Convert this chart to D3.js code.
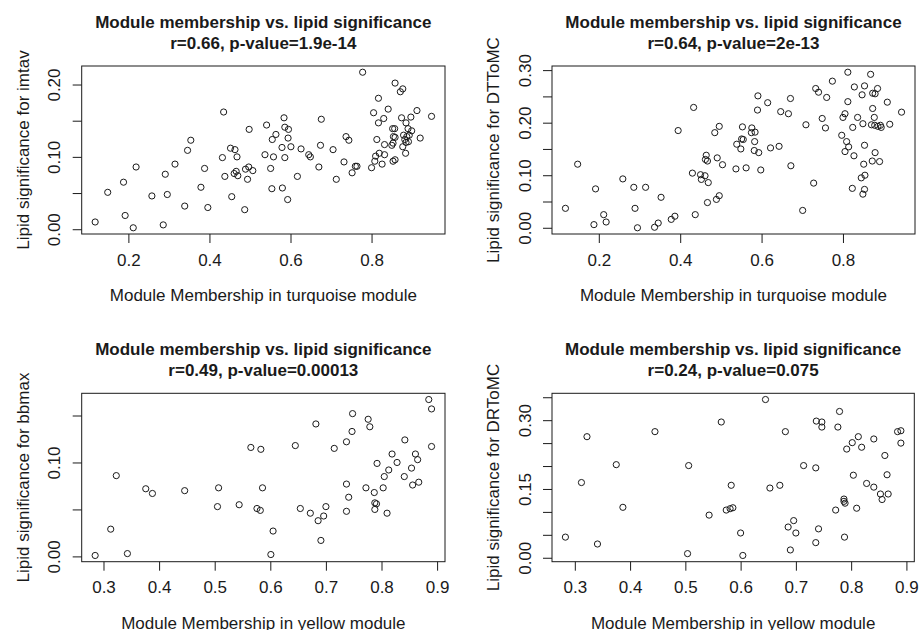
<!DOCTYPE html>
<html>
<head>
<meta charset="utf-8">
<script src="https://cdn.jsdelivr.net/npm/d3@7"></script>
<style>
  body { margin: 0; background: #fff; }
  text { font-family: "Liberation Sans", Arial, sans-serif; fill: #1a1a1a; }
</style>
</head>
<body>
<svg id="chart" width="920" height="630"></svg>
<script>
// module membership (x) and lipid significance (y)
const imtavMM = [0.118, 0.149, 0.188, 0.192, 0.212, 0.219, 0.258, 0.286, 0.291, 0.296, 0.315, 0.339, 0.346, 0.354, 0.379, 0.388, 0.396, 0.435, 0.432, 0.438,
  0.452, 0.463, 0.468, 0.455, 0.461, 0.466, 0.470, 0.487, 0.494, 0.489, 0.497, 0.507, 0.498, 0.541, 0.537, 0.558, 0.551, 0.554, 0.555, 0.564,
  0.584, 0.586, 0.595, 0.594, 0.579, 0.601, 0.586, 0.580, 0.593, 0.626, 0.617, 0.645, 0.649, 0.676, 0.674, 0.670, 0.705, 0.713, 0.732, 0.737,
  0.744, 0.752, 0.760, 0.764, 0.778, 0.800, 0.808, 0.810, 0.819, 0.826, 0.832, 0.813, 0.805, 0.817, 0.817, 0.830, 0.841, 0.832, 0.850, 0.853,
  0.852, 0.857, 0.854, 0.858, 0.853, 0.858, 0.858, 0.871, 0.877, 0.874, 0.885, 0.890, 0.897, 0.899, 0.879, 0.887, 0.882, 0.893, 0.885, 0.891,
  0.877, 0.884, 0.912, 0.920, 0.948];
const imtavGS = [0.010, 0.051, 0.065, 0.019, 0.002, 0.086, 0.046, 0.006, 0.076, 0.048, 0.090, 0.032, 0.109, 0.123, 0.058, 0.084, 0.030, 0.162, 0.099, 0.073,
  0.112, 0.110, 0.100, 0.045, 0.077, 0.080, 0.074, 0.027, 0.069, 0.083, 0.086, 0.081, 0.138, 0.144, 0.103, 0.100, 0.084, 0.056, 0.124, 0.131,
  0.154, 0.141, 0.138, 0.126, 0.113, 0.114, 0.099, 0.057, 0.041, 0.111, 0.073, 0.103, 0.100, 0.152, 0.116, 0.086, 0.110, 0.069, 0.093, 0.128,
  0.123, 0.078, 0.087, 0.087, 0.217, 0.085, 0.094, 0.101, 0.105, 0.090, 0.103, 0.124, 0.161, 0.181, 0.147, 0.153, 0.166, 0.117, 0.116, 0.119,
  0.139, 0.139, 0.128, 0.127, 0.094, 0.096, 0.202, 0.190, 0.194, 0.154, 0.147, 0.139, 0.155, 0.136, 0.130, 0.128, 0.124, 0.130, 0.120, 0.121,
  0.114, 0.105, 0.164, 0.126, 0.156];

const dttomcMM = [0.118, 0.148, 0.188, 0.192, 0.212, 0.218, 0.259, 0.286, 0.289, 0.295, 0.315, 0.337, 0.346, 0.353, 0.378, 0.387, 0.395, 0.433, 0.430, 0.437,
  0.450, 0.452, 0.461, 0.469, 0.464, 0.462, 0.467, 0.467, 0.485, 0.496, 0.491, 0.504, 0.489, 0.496,
  0.537, 0.562, 0.598, 0.539, 0.549, 0.551, 0.555, 0.553, 0.576, 0.575, 0.584, 0.583, 0.582, 0.593, 0.590, 0.591, 0.615, 0.622, 0.643, 0.647,
  0.666, 0.671, 0.672, 0.701, 0.709, 0.728, 0.733, 0.740, 0.749, 0.757, 0.760, 0.774, 0.797, 0.800, 0.805, 0.809, 0.814, 0.805, 0.827, 0.812,
  0.812, 0.828, 0.847, 0.853, 0.836, 0.824, 0.849, 0.823, 0.845, 0.854, 0.851, 0.853, 0.853, 0.849, 0.868, 0.873, 0.879, 0.885, 0.873, 0.877,
  0.870, 0.878, 0.886, 0.892, 0.894, 0.879, 0.872, 0.890, 0.909, 0.915, 0.944];
const dttomcGS = [0.037, 0.121, 0.006, 0.074, 0.025, 0.011, 0.093, 0.077, 0.037, 0.000, 0.077, 0.001, 0.009, 0.058, 0.016, 0.022, 0.185, 0.229, 0.104, 0.025,
  0.101, 0.092, 0.099, 0.086, 0.138, 0.130, 0.127, 0.048, 0.181, 0.193, 0.133, 0.120, 0.054, 0.061,
  0.112, 0.114, 0.110, 0.159, 0.150, 0.169, 0.168, 0.192, 0.190, 0.181, 0.182, 0.164, 0.147, 0.143, 0.224, 0.251, 0.238, 0.152, 0.155, 0.221,
  0.217, 0.246, 0.118, 0.033, 0.196, 0.085, 0.265, 0.258, 0.208, 0.190, 0.248, 0.279, 0.176, 0.210, 0.217, 0.164, 0.154, 0.145, 0.137, 0.296,
  0.240, 0.268, 0.253, 0.270, 0.210, 0.191, 0.198, 0.075, 0.095, 0.100, 0.121, 0.157, 0.073, 0.064, 0.292, 0.256, 0.255, 0.265, 0.227, 0.210,
  0.196, 0.195, 0.193, 0.195, 0.191, 0.143, 0.127, 0.126, 0.239, 0.197, 0.220];

const bbmaxMM = [0.285, 0.313, 0.323, 0.343, 0.376, 0.388, 0.446, 0.507, 0.505, 0.544, 0.565, 0.583, 0.586, 0.576, 0.582, 0.605, 0.601,
  0.645, 0.654, 0.672, 0.682, 0.686, 0.696, 0.700, 0.691, 0.715, 0.737, 0.748, 0.747, 0.737, 0.741, 0.737, 0.776, 0.779, 0.772, 0.787,
  0.788, 0.791, 0.788, 0.792, 0.803, 0.805, 0.813, 0.810, 0.819, 0.828, 0.842, 0.841, 0.854, 0.861, 0.865, 0.856, 0.867, 0.885, 0.890, 0.890];
const bbmaxGS = [0.001, 0.029, 0.086, 0.003, 0.072, 0.067, 0.070, 0.073, 0.053, 0.055, 0.116, 0.114, 0.073, 0.051, 0.049, 0.027, 0.002,
  0.118, 0.051, 0.046, 0.141, 0.038, 0.043, 0.053, 0.017, 0.115, 0.122, 0.152, 0.133, 0.077, 0.063, 0.048, 0.146, 0.138, 0.073, 0.068,
  0.057, 0.056, 0.050, 0.099, 0.073, 0.085, 0.092, 0.046, 0.109, 0.100, 0.124, 0.085, 0.094, 0.109, 0.103, 0.076, 0.079, 0.167, 0.157, 0.117];

const drtomcMM = [0.283, 0.312, 0.322, 0.341, 0.375, 0.387, 0.445, 0.506, 0.504, 0.543, 0.565, 0.574,
  0.581, 0.586, 0.583, 0.600, 0.604, 0.645, 0.653, 0.671, 0.681, 0.686, 0.696, 0.700, 0.690, 0.714, 0.736, 0.737, 0.747, 0.747, 0.741,
  0.736, 0.776, 0.779, 0.772, 0.787, 0.787, 0.789, 0.788, 0.792, 0.802, 0.813, 0.819, 0.804, 0.810, 0.828, 0.841, 0.841, 0.853, 0.856,
  0.867, 0.861, 0.865, 0.884, 0.890, 0.890];
const drtomcGS = [0.045, 0.164, 0.264, 0.030, 0.203, 0.110, 0.275, 0.201, 0.009, 0.093, 0.296, 0.104,
  0.107, 0.109, 0.158, 0.054, 0.005, 0.345, 0.152, 0.158, 0.275, 0.067, 0.081, 0.054, 0.017, 0.201, 0.196, 0.298, 0.296, 0.285, 0.063,
  0.033, 0.285, 0.319, 0.104, 0.128, 0.123, 0.119, 0.045, 0.237, 0.251, 0.264, 0.241, 0.180, 0.108, 0.162, 0.259, 0.154, 0.139, 0.127,
  0.139, 0.223, 0.181, 0.275, 0.277, 0.250];

const turquoiseTicks = [0.2, 0.4, 0.6, 0.8];
const yellowTicks = [0.3, 0.4, 0.5, 0.6, 0.7, 0.8, 0.9];
const imtavTicks = [0, 0.05, 0.10, 0.15, 0.20];
const imtavLabels = [0, 0.10, 0.20];
const dttomcTicks = [0, 0.05, 0.10, 0.15, 0.20, 0.25, 0.30];
const dttomcLabels = [0, 0.10, 0.20, 0.30];
const bbmaxTicks = [0, 0.05, 0.10, 0.15];
const bbmaxLabels = [0, 0.10];
const drtomcTicks = [0, 0.05, 0.10, 0.15, 0.20, 0.25, 0.30, 0.35];
const drtomcLabels = [0, 0.15, 0.30];

const mainTitle = 'Module membership vs. lipid significance';
const subTitles = ['r=0.66, p-value=1.9e-14', 'r=0.64, p-value=2e-13', 'r=0.49, p-value=0.00013', 'r=0.24, p-value=0.075'];
const xLabels = ['Module Membership in turquoise module', 'Module Membership in turquoise module',
  'Module Membership in yellow module', 'Module Membership in yellow module'];
const yLabels = ['Lipid significance for imtav', 'Lipid significance for DTToMC',
  'Lipid significance for bbmax', 'Lipid significance for DRToMC'];

const panels = [
  { xs: imtavMM, ys: imtavGS, xTicks: turquoiseTicks, yTicks: imtavTicks, yShown: imtavLabels, left: 81.7, right: 445, top: 66, bottom: 234 },
  { xs: dttomcMM, ys: dttomcGS, xTicks: turquoiseTicks, yTicks: dttomcTicks, yShown: dttomcLabels, left: 552, right: 915, top: 66, bottom: 234 },
  { xs: bbmaxMM, ys: bbmaxGS, xTicks: yellowTicks, yTicks: bbmaxTicks, yShown: bbmaxLabels, left: 81.7, right: 445, top: 393.3, bottom: 561.7 },
  { xs: drtomcMM, ys: drtomcGS, xTicks: yellowTicks, yTicks: drtomcTicks, yShown: drtomcLabels, left: 552, right: 914.3, top: 393.3, bottom: 561.7 }
];

const INK = '#1a1a1a';
const svg = d3.select('#chart');

// like R: data range stretched by 4% on each side
function paddedExtent(values) {
  const [lo, hi] = d3.extent(values);
  const pad = (hi - lo) * 0.04;
  return [lo - pad, hi + pad];
}

function fmt(v) {
  return v === 0 ? '0.00' : d3.format('.2f')(v);
}

function drawPanel(p, i) {
  const g = svg.append('g');
  const x = d3.scaleLinear().domain(paddedExtent(p.xs)).range([p.left, p.right]);
  const y = d3.scaleLinear().domain(paddedExtent(p.ys)).range([p.bottom, p.top]);

  const xAxis = g.append('g')
    .attr('transform', `translate(0,${p.bottom})`)
    .call(d3.axisBottom(x).tickValues(p.xTicks).tickSize(9).tickFormat(d3.format('.1f')));
  xAxis.select('.domain').remove();
  xAxis.selectAll('line').attr('stroke', INK);
  xAxis.selectAll('text')
    .attr('y', 25.8).attr('dy', '0.35em')
    .style('font-size', '17px').attr('fill', INK);

  const yAxis = g.append('g')
    .attr('transform', `translate(${p.left},0)`)
    .call(d3.axisLeft(y).tickValues(p.yTicks).tickSize(9)
      .tickFormat(d => p.yShown.some(s => Math.abs(s - d) < 1e-9) ? fmt(d) : ''));
  yAxis.select('.domain').remove();
  yAxis.selectAll('line').attr('stroke', INK);
  yAxis.selectAll('text')
    .attr('x', null).attr('dy', null)
    .attr('transform', 'translate(-26.7,0) rotate(-90)')
    .attr('text-anchor', 'middle')
    .attr('dominant-baseline', 'central')
    .style('font-size', '17px').attr('fill', INK);

  g.append('rect')
    .attr('x', p.left).attr('y', p.top)
    .attr('width', p.right - p.left).attr('height', p.bottom - p.top)
    .attr('fill', 'none').attr('stroke', INK).attr('stroke-width', 1);

  g.append('g').selectAll('circle')
    .data(d3.range(p.xs.length))
    .join('circle')
    .attr('cx', k => x(p.xs[k]))
    .attr('cy', k => y(p.ys[k]))
    .attr('r', 3.1)
    .attr('fill', 'none')
    .attr('stroke', INK)
    .attr('stroke-width', 1);

  const cx = (p.left + p.right) / 2;
  g.append('text')
    .attr('x', cx).attr('y', p.top - 44.3).attr('dy', '0.35em')
    .attr('text-anchor', 'middle')
    .style('font-size', '17px').style('font-weight', 'bold')
    .text(mainTitle);
  g.append('text')
    .attr('x', cx).attr('y', p.top - 23).attr('dy', '0.35em')
    .attr('text-anchor', 'middle')
    .style('font-size', '17px').style('font-weight', 'bold')
    .text(subTitles[i]);

  g.append('text')
    .attr('x', cx).attr('y', p.bottom + 61).attr('dy', '0.35em')
    .attr('text-anchor', 'middle')
    .style('font-size', '17px')
    .text(xLabels[i]);

  const cy = (p.top + p.bottom) / 2;
  g.append('text')
    .attr('transform', `translate(${p.left - 59},${cy}) rotate(-90)`)
    .attr('dy', '0.35em')
    .attr('text-anchor', 'middle')
    .style('font-size', '17px')
    .text(yLabels[i]);
}

panels.forEach(drawPanel);
</script>
</body>
</html>
